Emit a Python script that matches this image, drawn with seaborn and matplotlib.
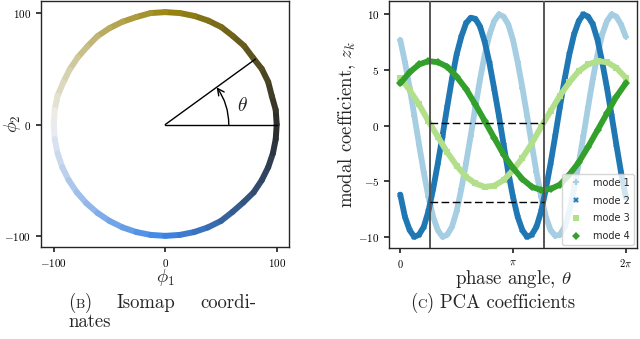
import numpy as np
import pandas as pd
import seaborn as sns
import matplotlib
matplotlib.use('Agg')
from matplotlib import pyplot as plt
from matplotlib.collections import LineCollection
from matplotlib.colors import LinearSegmentedColormap

# phase angle samples (degrees)
theta_fast_deg = [0, 7.5, 15, 22.5, 30, 37.5, 45, 52.5, 60, 67.5, 75, 82.5, 90,
                  97.5, 105, 112.5, 120, 127.5, 135, 142.5, 150, 157.5, 165, 172.5, 180,
                  187.5, 195, 202.5, 210, 217.5, 225, 232.5, 240, 247.5, 255, 262.5, 270,
                  277.5, 285, 292.5, 300, 307.5, 315, 322.5, 330, 337.5, 345, 352.5, 360]
theta_slow_deg = [0, 15, 30, 45, 60, 75, 90, 105, 120, 135, 150, 165, 180,
                  195, 210, 225, 240, 255, 270, 285, 300, 315, 330, 345, 360]

# isomap radius at each fast sample
isomap_radius = [100, 100, 99, 100, 100, 99, 100, 100, 101, 101, 101, 101, 101,
                 101, 100, 100, 100, 100, 99, 99, 99, 99, 100, 100, 100,
                 100, 100, 100, 100, 100, 100, 100, 100, 100, 100, 100, 100,
                 100, 100, 100, 100, 99, 99, 100, 100, 100, 100, 100, 100]

# modal coefficients z_k
mode1 = [7.7, 5.7, 3.4, 0.9, -1.7, -4.2, -6.4, -8.2, -9.4, -10.0, -9.8, -9.1, -7.7,
         -5.7, -3.4, -0.9, 1.7, 4.2, 6.4, 8.2, 9.4, 10.0, 9.8, 9.1, 7.7,
         5.7, 3.4, 0.9, -1.7, -4.2, -6.4, -8.2, -9.4, -9.9, -9.8, -9.1, -7.7,
         -5.7, -3.4, -0.9, 1.7, 4.2, 6.4, 8.2, 9.4, 10.0, 9.8, 9.1, 8.0]
mode2 = [-6.2, -8.2, -9.4, -10.0, -9.8, -9.1, -7.7, -5.7, -3.4, -0.9, 1.7, 4.2, 6.4,
         8.0, 9.2, 9.7, 9.6, 8.9, 7.5, 5.6, 3.3, 0.9, -1.7, -4.2, -6.4,
         -8.2, -9.4, -10.0, -9.8, -9.1, -7.7, -5.7, -3.4, -0.9, 1.7, 4.2, 6.4,
         8.2, 9.4, 10.0, 9.8, 9.1, 7.7, 5.7, 3.4, 0.9, -1.7, -4.2, -6.4]
mode3 = [4.3, 3.2, 1.9, 0.4, -1.0, -2.4, -3.6, -4.6, -5.2, -5.5, -5.4, -4.9, -4.0,
         -2.9, -1.6, -0.1, 1.3, 2.7, 3.9, 4.9, 5.5, 5.8, 5.7, 5.2, 4.3]
mode4 = [3.8, 4.8, 5.5, 5.8, 5.7, 5.3, 4.4, 3.3, 1.9, 0.4, -1.1, -2.6, -3.8,
         -4.8, -5.5, -5.8, -5.7, -5.3, -4.4, -3.3, -1.9, -0.4, 1.1, 2.6, 3.8]
mode_names = ['mode 1', 'mode 2', 'mode 3', 'mode 4']

# annotations
theta_mark_deg = 36
vline_theta = [0.84, 4.0]
hline_z = [0.27, -6.9]

sns.set_theme(style='ticks')
plt.rcParams.update({
    'font.family': 'serif',
    'font.serif': ['cmr10'],
    'mathtext.fontset': 'cm',
    'axes.formatter.use_mathtext': True,
    'axes.edgecolor': '#262626',
    'axes.linewidth': 1.0,
    'xtick.color': '#262626',
    'ytick.color': '#262626',
    'xtick.labelcolor': 'black',
    'ytick.labelcolor': 'black',
    'xtick.major.size': 3.5,
    'ytick.major.size': 3.5,
    'xtick.labelsize': 8,
    'ytick.labelsize': 8,
})

fig = plt.figure(figsize=(6.4, 3.39), dpi=100)
ax1 = fig.add_axes([0.064, 0.2714, 0.3875, 0.7257])
ax2 = fig.add_axes([0.6078, 0.2684, 0.3875, 0.7286])

# --- (b) isomap coordinates
cmap = LinearSegmentedColormap.from_list(
    'isomap', ['#2b2b2b', '#9a8610', '#efefef', '#3f86e6', '#2b2b2b'])
th = np.deg2rad(theta_fast_deg)
r = np.array(isomap_radius, dtype=float)
phi1 = r * np.cos(th)
phi2 = r * np.sin(th)
pts = np.column_stack([phi1, phi2]).reshape(-1, 1, 2)
segs = np.concatenate([pts[:-1], pts[1:]], axis=1)
lc = LineCollection(segs, cmap=cmap, linewidths=4.3, capstyle='round')
lc.set_array((th[:-1] + th[1:]) / 2)
lc.set_clim(0, 2 * np.pi)
ax1.add_collection(lc)

tm = np.deg2rad(theta_mark_deg)
ax1.plot([0, 100], [0, 0], color='black', lw=1)
ax1.plot([0, 100 * np.cos(tm)], [0, 100 * np.sin(tm)], color='black', lw=1)
ax1.annotate('', xy=(57 * np.cos(tm), 57 * np.sin(tm)), xytext=(57, 0),
             arrowprops=dict(arrowstyle='->,head_length=0.4,head_width=0.2',
                             connectionstyle='arc3,rad=0.16', lw=1,
                             color='black', shrinkA=0, shrinkB=0))
ax1.text(69, 17, r'$\theta$', fontsize=14, ha='center', va='center')

ax1.set_xlim(-111.5, 111)
ax1.set_ylim(-110, 111)
ax1.set_xticks([-100, 0, 100])
ax1.set_yticks([-100, 0, 100])
ax1.set_xlabel(r'$\phi_1$', fontsize=13.5)
ax1.set_ylabel(r'$\phi_2$', fontsize=13)
ax1.xaxis.set_label_coords(0.5, -0.082)
ax1.yaxis.set_label_coords(-0.072, 0.5)

# --- (c) PCA coefficients
df = pd.concat([
    pd.DataFrame({'theta': np.deg2rad(theta_fast_deg), 'z': mode1, 'mode': mode_names[0]}),
    pd.DataFrame({'theta': np.deg2rad(theta_fast_deg), 'z': mode2, 'mode': mode_names[1]}),
    pd.DataFrame({'theta': np.deg2rad(theta_slow_deg), 'z': mode3, 'mode': mode_names[2]}),
    pd.DataFrame({'theta': np.deg2rad(theta_slow_deg), 'z': mode4, 'mode': mode_names[3]}),
])
sns.lineplot(data=df, x='theta', y='z', hue='mode', style='mode',
             palette=sns.color_palette('Paired', 4), markers=['P', 'X', 's', 'D'],
             dashes=False, linewidth=4.2, markersize=4, markeredgewidth=0,
             errorbar=None, sort=False, ax=ax2)

for x in vline_theta:
    ax2.axvline(x, color='#555555', lw=1.4, zorder=5)
for z in hline_z:
    ax2.hlines(z, vline_theta[0], vline_theta[1], colors='black',
               linestyles=(0, (5.5, 2.5)), lw=1, zorder=5)

ax2.set_xlim(-0.314, 2 * np.pi + 0.314)
ax2.set_ylim(-11, 11.2)
ax2.set_yticks([-10, -5, 0, 5, 10])
ax2.set_xticks([0, np.pi, 2 * np.pi])
ax2.set_xticklabels(['$0$', r'$\pi$', r'$2\pi$'], fontsize=7.5)
ax2.set_xlabel(r'phase angle, $\theta$', fontsize=13.5)
ax2.set_ylabel(r'modal coefficient, $z_k$', fontsize=13.5)
ax2.xaxis.set_label_coords(0.5, -0.082)
ax2.yaxis.set_label_coords(-0.125, 0.5)

leg = ax2.legend(loc='lower right', prop={'family': 'DejaVu Sans', 'size': 7},
                 handlelength=2.0, labelspacing=0.8, borderaxespad=0.3,
                 frameon=True, fancybox=True, framealpha=0.8)
for h in leg.get_lines():
    h.set_linestyle('none')
    h.set_markersize(4)

# --- sub-captions
def ptext(x, y, s, size=13.5):
    fig.text(x / 640, 1 - y / 339, s, fontsize=size, ha='left', va='baseline')

ptext(68, 308, '(')
ptext(75.3, 308, 'B', 9.5)
ptext(84.5, 308, ')')
ptext(116.5, 308, 'Isomap')
ptext(200, 308, 'coordi-')
ptext(68, 327, 'nates')
ptext(410, 308, '(')
ptext(417.3, 308, 'C', 9.5)
ptext(426.8, 308, ')')
ptext(440.5, 308, 'PCA coefficients')

fig.savefig('out.png', dpi=100)
